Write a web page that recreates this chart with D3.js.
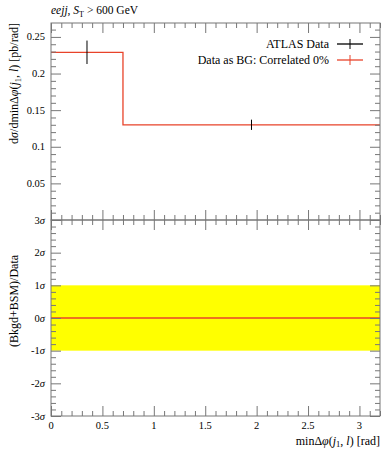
<!DOCTYPE html>
<html><head><meta charset="utf-8">
<script src="https://cdn.jsdelivr.net/npm/d3@7"></script>
<style>
body{margin:0;background:#fff;}
</style></head>
<body><svg id="c" width="392" height="450" font-family="'Liberation Serif', 'DejaVu Serif', serif"></svg>
<script>
// ---- data ----
const binEdges = [0, 0.7, 3.2];
const bgValues = [0.229, 0.130];
const dataX = [0.35, 1.95];
const dataY = [0.229, 0.130];
const dataErr = [0.016, 0.007];
const ratioValues = [0, 0];
const bandRange = [-1, 1];
const xTicks = [0, 0.5, 1, 1.5, 2, 2.5, 3];
const yTicks = [0.05, 0.1, 0.15, 0.2, 0.25];
const sigmaTicks = [-3, -2, -1, 0, 1, 2, 3];

const svg = d3.select("#c");
const L = 51, R = 380, T = 23, M = 220, B = 416;
const axisCol = "#777";
const red = "#e8432a";

const x = d3.scaleLinear().domain([0, 3.2]).range([L, R]);
const y = d3.scaleLinear().domain([0, 0.269]).range([M, T]);
const ys = d3.scaleLinear().domain([-3, 3]).range([B, M]);

const xMinor = d3.range(0, 3.21, 0.1).filter(v => Math.abs(v*2 - Math.round(v*2)) > 1e-6);
const yMinor = d3.range(0.01, 0.269, 0.01).filter(v => Math.abs(v*20 - Math.round(v*20)) > 1e-6);
const sMinor = d3.range(-3, 3.01, 0.2).filter(v => Math.abs(v - Math.round(v)) > 1e-6);

// yellow band
svg.append("rect").attr("x", x(0)).attr("width", x(3.2) - x(0))
  .attr("y", ys(bandRange[1])).attr("height", ys(bandRange[0]) - ys(bandRange[1]))
  .attr("fill", "#ffff00");

// ratio line
const ratioLine = [];
ratioValues.forEach((v, i) => { ratioLine.push([binEdges[i], v], [binEdges[i+1], v]); });
svg.append("path").attr("d", d3.line().x(d => x(d[0])).y(d => ys(d[1]))(ratioLine))
  .attr("fill", "none").attr("stroke", red).attr("stroke-width", 1.3);

// BG step histogram
const step = [];
bgValues.forEach((v, i) => { step.push([binEdges[i], v], [binEdges[i+1], v]); });
svg.append("path").attr("d", d3.line().x(d => x(d[0])).y(d => y(d[1]))(step))
  .attr("fill", "none").attr("stroke", red).attr("stroke-width", 1.3);

// data error bars
dataX.forEach((xv, i) => {
  svg.append("line").attr("x1", x(xv)).attr("x2", x(xv))
    .attr("y1", y(dataY[i] - dataErr[i])).attr("y2", y(dataY[i] + dataErr[i]))
    .attr("stroke", "#000").attr("stroke-width", 1);
});

function styleAxis(g) {
  g.select(".domain").remove();
  g.selectAll(".tick line").attr("stroke", axisCol);
}
function addX(yPos, dir) {
  const ax = (dir > 0 ? d3.axisBottom(x) : d3.axisTop(x));
  styleAxis(svg.append("g").attr("transform", `translate(0,${yPos})`)
    .call(ax.tickValues(xTicks).tickSize(10).tickFormat("")));
  const ax2 = (dir > 0 ? d3.axisBottom(x) : d3.axisTop(x));
  styleAxis(svg.append("g").attr("transform", `translate(0,${yPos})`)
    .call(ax2.tickValues(xMinor).tickSize(5).tickFormat("")));
}
function addY(scale, xPos, dir, major, minor) {
  const ax = (dir > 0 ? d3.axisRight(scale) : d3.axisLeft(scale));
  styleAxis(svg.append("g").attr("transform", `translate(${xPos},0)`)
    .call(ax.tickValues(major).tickSize(10).tickFormat("")));
  const ax2 = (dir > 0 ? d3.axisRight(scale) : d3.axisLeft(scale));
  styleAxis(svg.append("g").attr("transform", `translate(${xPos},0)`)
    .call(ax2.tickValues(minor).tickSize(5).tickFormat("")));
}
addX(T, 1); addX(M, -1);
addY(y, L, 1, yTicks, yMinor); addY(y, R, -1, yTicks, yMinor);
addX(M, 1); addX(B, -1);
addY(ys, L, 1, sigmaTicks, sMinor); addY(ys, R, -1, sigmaTicks, sMinor);

[[T, M], [M, B]].forEach(([a, b]) => {
  svg.append("rect").attr("x", L).attr("y", a).attr("width", R - L).attr("height", b - a)
    .attr("fill", "none").attr("stroke", axisCol).attr("stroke-width", 1);
});

const fmt = d3.format("");
yTicks.forEach(v => {
  svg.append("text").attr("x", L - 6).attr("y", y(v) + 3.5).attr("text-anchor", "end")
    .attr("font-size", 10.5).text(fmt(v));
});
sigmaTicks.forEach(v => {
  const t = svg.append("text").attr("x", L - 6).attr("y", ys(v) + 3.5).attr("text-anchor", "end")
    .attr("font-size", 10.5);
  t.append("tspan").text(v);
  t.append("tspan").attr("font-style", "italic").text("σ");
});
xTicks.forEach(v => {
  svg.append("text").attr("x", x(v)).attr("y", B + 13).attr("text-anchor", "middle")
    .attr("font-size", 10.5).text(fmt(v));
});

// title
const tt = svg.append("text").attr("x", L).attr("y", 14).attr("font-size", 11.5);
tt.append("tspan").attr("font-style", "italic").text("eejj");
tt.append("tspan").text(", ");
tt.append("tspan").attr("font-style", "italic").text("S");
tt.append("tspan").attr("font-size", 8).attr("dy", 2.5).text("T");
tt.append("tspan").attr("dy", -2.5).text(" > 600 GeV");

// x label
const xl = svg.append("text").attr("x", R).attr("y", 445).attr("text-anchor", "end").attr("font-size", 12);
xl.append("tspan").text("minΔ");
xl.append("tspan").attr("font-style", "italic").text("φ");
xl.append("tspan").text("(");
xl.append("tspan").attr("font-style", "italic").text("j");
xl.append("tspan").attr("font-size", 8.5).attr("dy", 2).text("1");
xl.append("tspan").attr("dy", -2).text(", ");
xl.append("tspan").attr("font-style", "italic").text("l");
xl.append("tspan").text(") [rad]");

// y labels
const yl = svg.append("text").attr("transform", `translate(18,${T}) rotate(-90)`)
  .attr("text-anchor", "end").attr("font-size", 12);
yl.append("tspan").text("d");
yl.append("tspan").attr("font-style", "italic").text("σ");
yl.append("tspan").text("/dminΔ");
yl.append("tspan").attr("font-style", "italic").text("φ");
yl.append("tspan").text("(");
yl.append("tspan").attr("font-style", "italic").text("j");
yl.append("tspan").attr("font-size", 8.5).attr("dy", 2.5).text("1");
yl.append("tspan").attr("dy", -2.5).text(", ");
yl.append("tspan").attr("font-style", "italic").text("l");
yl.append("tspan").text(") [pb/rad]");

svg.append("text").attr("transform", `translate(18,301) rotate(-90)`)
  .attr("text-anchor", "middle").attr("font-size", 12).text("(Bkgd+BSM)/Data");

// legend
const legend = [
  {label: "ATLAS Data", color: "#000", y: 44},
  {label: "Data as BG: Correlated 0%", color: red, y: 60}
];
legend.forEach(d => {
  svg.append("text").attr("x", 329).attr("y", d.y + 4).attr("text-anchor", "end")
    .attr("font-size", 12).text(d.label);
  svg.append("line").attr("x1", 337).attr("x2", 363).attr("y1", d.y).attr("y2", d.y)
    .attr("stroke", d.color).attr("stroke-width", 1.3);
  svg.append("line").attr("x1", 350).attr("x2", 350).attr("y1", d.y - 5).attr("y2", d.y + 5)
    .attr("stroke", d.color).attr("stroke-width", 1);
});
</script></body></html>
